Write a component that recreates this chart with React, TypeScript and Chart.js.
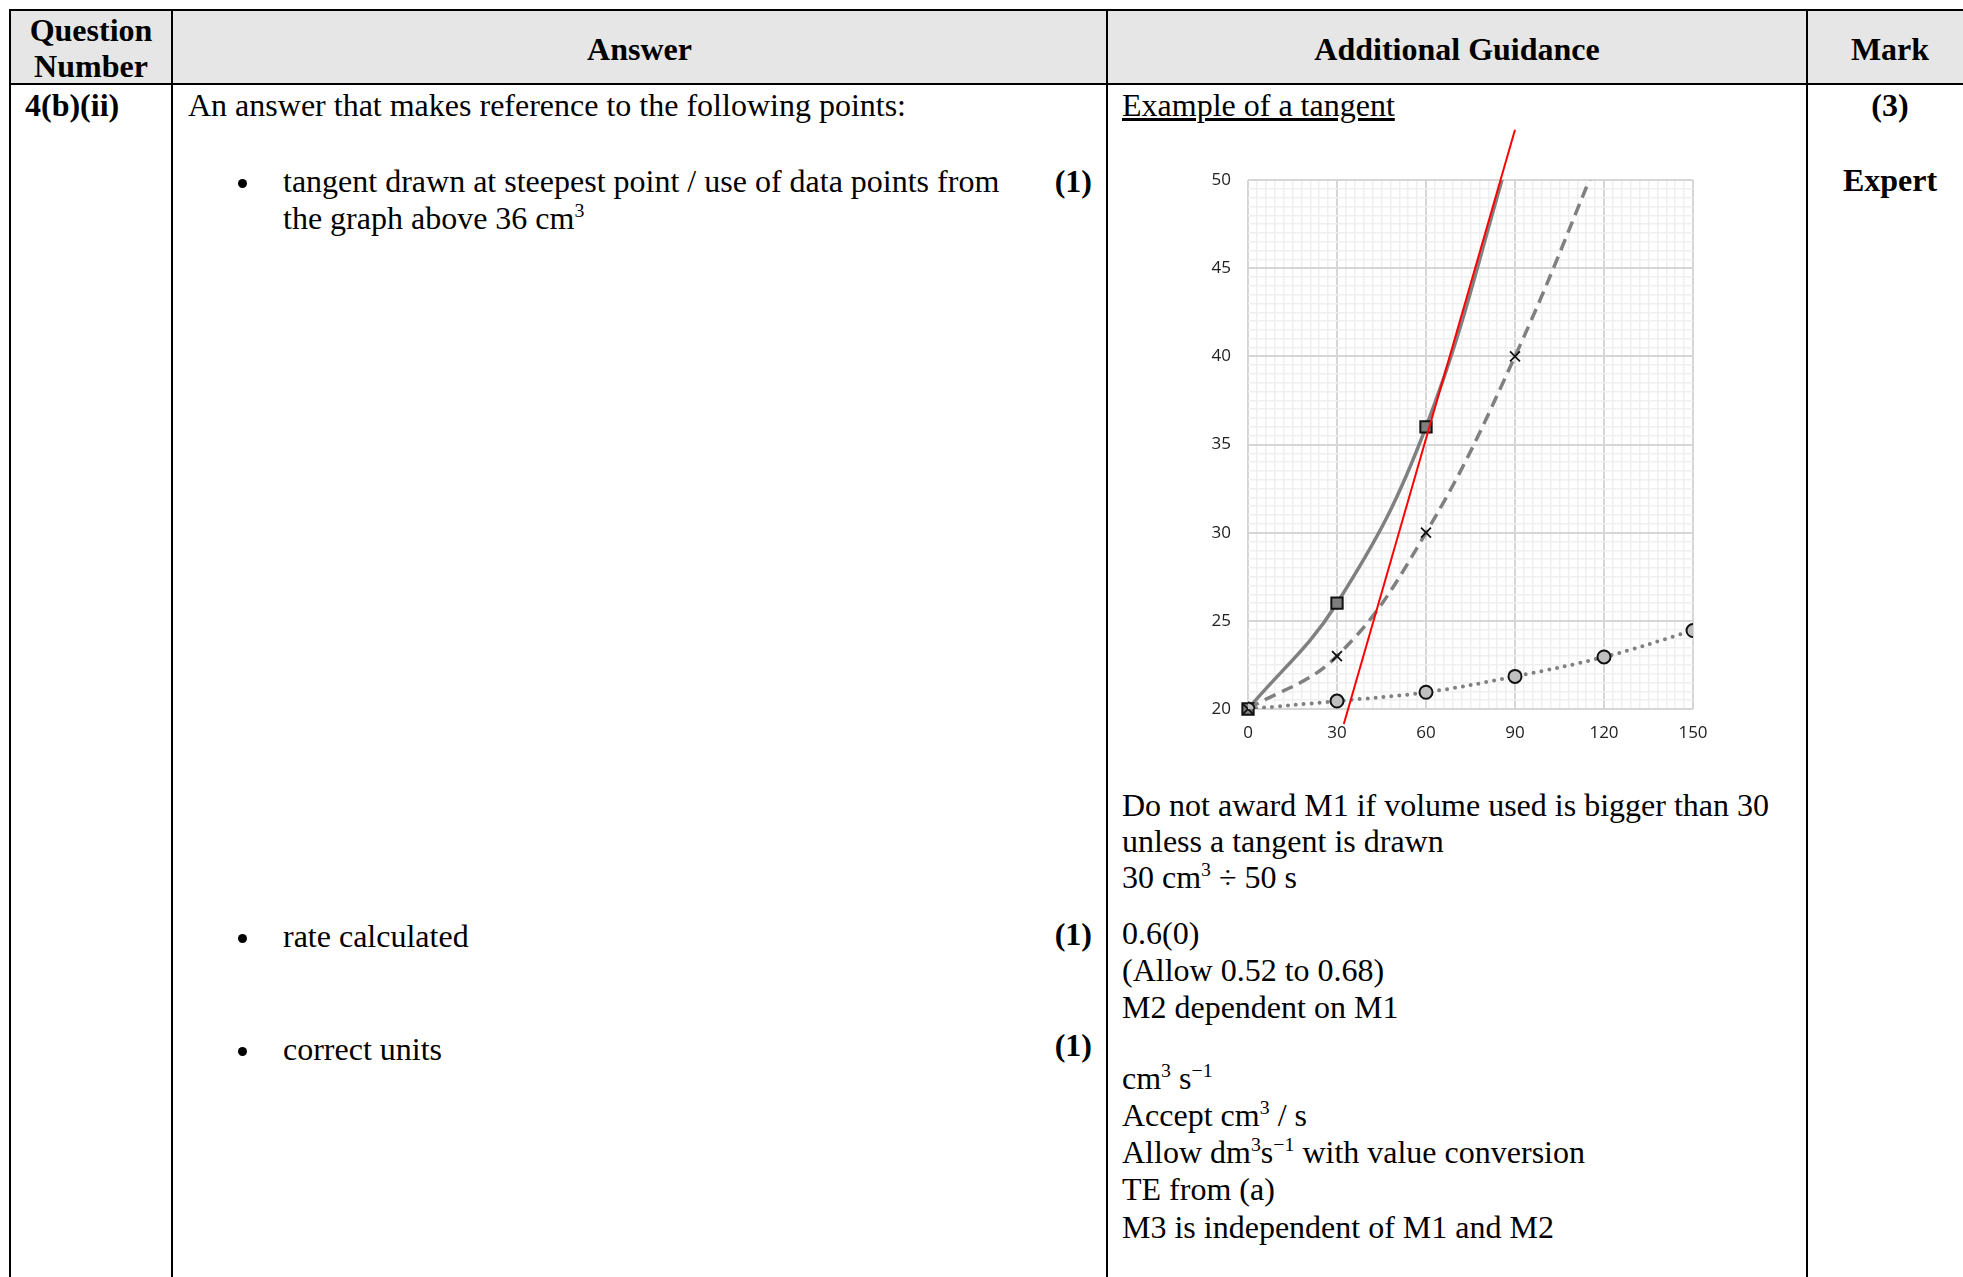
import React, { useEffect, useRef } from 'react';
import { Chart, registerables } from 'chart.js';

Chart.register(...registerables);

// ---- chart data ----
const xTickLabels = [0, 30, 60, 90, 120, 150];
const yTickLabels = [20, 25, 30, 35, 40, 45, 50];
const squareX = [0, 30, 60, 90];
const squareY = [20, 26, 36, 52.5];
const crossX = [0, 30, 60, 90, 120];
const crossY = [20, 23, 30, 40, 52];
const circleX = [0, 30, 60, 90, 120, 150];
const circleY = [20, 20.45, 20.95, 21.85, 22.95, 24.45];
const tangentX = [32.3, 90];
const tangentY = [19.15, 52.85];

const zip = (xs: number[], ys: number[]) => xs.map((x, i) => ({ x, y: ys[i] }));

const isMajorX = (v: number) => xTickLabels.some((t) => Math.abs(t - v) < 1e-6);
const isMajorY = (v: number) => yTickLabels.some((t) => Math.abs(t - v) < 1e-6);

const MAJOR = '#d6d6d6';
const MINOR = '#efefef';

function TangentChart() {
  const ref = useRef<HTMLCanvasElement | null>(null);
  useEffect(() => {
    if (!ref.current) return;
    const tickFont = { family: '"Open Sans", sans-serif', size: 17 };
    const chart = new Chart(ref.current, {
      type: 'line',
      data: {
        datasets: [
          {
            data: zip(tangentX, tangentY),
            borderColor: '#ff0000',
            borderWidth: 2,
            pointRadius: 0,
            tension: 0,
            clip: false as any,
          },
          {
            data: zip(circleX, circleY),
            borderColor: '#808080',
            borderWidth: 4,
            borderDash: [0, 8],
            borderCapStyle: 'round',
            pointStyle: 'circle',
            pointRadius: 6.5,
            pointBackgroundColor: '#c0c0c0',
            pointBorderColor: '#111111',
            pointBorderWidth: 2,
            tension: 0.4,
          },
          {
            data: zip(crossX, crossY),
            borderColor: '#808080',
            borderWidth: 3.5,
            borderDash: [12, 7],
            pointStyle: 'crossRot',
            pointRadius: [7, 7, 7, 7, 0],
            pointBorderColor: '#111111',
            pointBorderWidth: 1.8,
            tension: 0.4,
            clip: { left: 12, right: 12, bottom: 12, top: 0 } as any,
          },
          {
            data: zip(squareX, squareY),
            borderColor: '#808080',
            borderWidth: 3.5,
            pointStyle: 'rect',
            pointRadius: [8, 8, 8, 0],
            pointBackgroundColor: '#7f7f7f',
            pointBorderColor: '#111111',
            pointBorderWidth: 2,
            tension: 0.4,
            clip: { left: 12, right: 12, bottom: 12, top: 0 } as any,
          },
        ],
      },
      options: {
        responsive: false,
        maintainAspectRatio: false,
        animation: false,
        layout: { padding: { top: 65, right: 37, bottom: 16, left: 0 } },
        plugins: { legend: { display: false }, tooltip: { enabled: false } },
        scales: {
          x: {
            type: 'linear',
            min: 0,
            max: 150,
            afterFit: (s: any) => {
              s.height = 40;
            },
            ticks: {
              stepSize: 3,
              autoSkip: false,
              maxRotation: 0,
              padding: 14,
              color: '#222222',
              font: tickFont,
              callback: (v: any) => (isMajorX(Number(v)) ? String(Math.round(Number(v))) : ''),
            },
            grid: {
              drawTicks: false,
              color: (c: any) => (c.tick && isMajorX(c.tick.value) ? MAJOR : MINOR),
              lineWidth: (c: any) => (c.tick && isMajorX(c.tick.value) ? 2 : 1.5),
            },
            border: { display: false },
          },
          y: {
            type: 'linear',
            min: 20,
            max: 50,
            afterFit: (s: any) => {
              s.width = 108;
            },
            ticks: {
              stepSize: 0.5,
              autoSkip: false,
              padding: 17,
              color: '#222222',
              font: tickFont,
              callback: (v: any) => (isMajorY(Number(v)) ? String(Math.round(Number(v))) : ''),
            },
            grid: {
              drawTicks: false,
              color: (c: any) => (c.tick && isMajorY(c.tick.value) ? MAJOR : MINOR),
              lineWidth: (c: any) => (c.tick && isMajorY(c.tick.value) ? 2 : 1.5),
            },
            border: { display: false },
          },
        },
      } as any,
    });
    return () => chart.destroy();
  }, []);
  return (
    <canvas
      ref={ref}
      width={590}
      height={650}
      style={{ position: 'absolute', left: 1140, top: 115, width: 590, height: 650 }}
    />
  );
}

// ---- page text ----
const FONT = '"Liberation Serif", "Times New Roman", serif';
const LH = 37;

function T(props: {
  x: number;
  y: number;
  w?: number;
  align?: 'left' | 'center' | 'right';
  bold?: boolean;
  underline?: boolean;
  children: React.ReactNode;
}) {
  const { x, y, w, align = 'left', bold, underline, children } = props;
  const style: React.CSSProperties = {
    position: 'absolute',
    top: y - LH / 2,
    whiteSpace: 'nowrap',
    fontFamily: FONT,
    fontSize: 32,
    lineHeight: `${LH}px`,
    fontWeight: bold ? 'bold' : 'normal',
    textDecoration: underline ? 'underline' : 'none',
    color: '#000',
  };
  if (align === 'right') {
    style.right = 1963 - x;
  } else {
    style.left = x;
    if (w !== undefined) style.width = w;
    style.textAlign = align;
  }
  return <div style={style}>{children}</div>;
}

const Bullet = ({ y }: { y: number }) => (
  <div
    style={{
      position: 'absolute',
      left: 242 - 4.5,
      top: y - 4.5,
      width: 9,
      height: 9,
      borderRadius: '50%',
      background: '#000',
    }}
  />
);

const Sup = ({ children }: { children: React.ReactNode }) => (
  <span style={{ fontSize: '0.62em', verticalAlign: '0.6em', lineHeight: 0 }}>{children}</span>
);

const cols = [10, 172, 1107, 1807, 1973];

export default function App() {
  const line = (l: number, t: number, w: number, h: number, k: string) => (
    <div key={k} style={{ position: 'absolute', left: l, top: t, width: w, height: h, background: '#000' }} />
  );
  return (
    <div
      style={{
        position: 'absolute',
        left: 0,
        top: 0,
        width: 1963,
        height: 1277,
        overflow: 'hidden',
        background: '#fff',
      }}
    >
      {/* header background */}
      <div style={{ position: 'absolute', left: 10, top: 10, width: 1970, height: 74, background: '#e6e6e6' }} />
      {line(9, 9, 1970, 2, 'top')}
      {line(9, 83, 1970, 2, 'hb')}
      {cols.map((c, i) => line(c - 1, 9, 2, 1300, 'c' + i))}

      {/* header */}
      <T x={cols[0]} w={cols[1] - cols[0]} y={30} align="center" bold>
        Question
      </T>
      <T x={cols[0]} w={cols[1] - cols[0]} y={66} align="center" bold>
        Number
      </T>
      <T x={cols[1]} w={cols[2] - cols[1]} y={49} align="center" bold>
        Answer
      </T>
      <T x={cols[2]} w={cols[3] - cols[2]} y={49} align="center" bold>
        Additional Guidance
      </T>
      <T x={cols[3]} w={cols[4] - cols[3]} y={49} align="center" bold>
        Mark
      </T>

      {/* question number */}
      <T x={25} y={105} bold>
        4(b)(ii)
      </T>

      {/* answer column */}
      <T x={188} y={105}>An answer that makes reference to the following points:</T>
      <Bullet y={183} />
      <T x={283} y={181}>tangent drawn at steepest point / use of data points from</T>
      <T x={283} y={218}>
        the graph above 36 cm<Sup>3</Sup>
      </T>
      <T x={1092} y={181} align="right" bold>
        (1)
      </T>

      <Bullet y={938} />
      <T x={283} y={936}>rate calculated</T>
      <T x={1092} y={934} align="right" bold>
        (1)
      </T>

      <Bullet y={1051} />
      <T x={283} y={1049}>correct units</T>
      <T x={1092} y={1045} align="right" bold>
        (1)
      </T>

      {/* guidance column */}
      <T x={1122} y={105} underline>
        Example of a tangent
      </T>
      <TangentChart />
      <T x={1122} y={805}>Do not award M1 if volume used is bigger than 30</T>
      <T x={1122} y={841}>unless a tangent is drawn</T>
      <T x={1122} y={877}>
        30 cm<Sup>3</Sup> ÷ 50 s
      </T>
      <T x={1122} y={933}>0.6(0)</T>
      <T x={1122} y={970}>(Allow 0.52 to 0.68)</T>
      <T x={1122} y={1007}>M2 dependent on M1</T>
      <T x={1122} y={1078}>
        cm<Sup>3</Sup> s<Sup>−1</Sup>
      </T>
      <T x={1122} y={1115}>
        Accept cm<Sup>3</Sup> / s
      </T>
      <T x={1122} y={1152}>
        Allow dm<Sup>3</Sup>s<Sup>−1</Sup> with value conversion
      </T>
      <T x={1122} y={1189}>TE from (a)</T>
      <T x={1122} y={1227}>M3 is independent of M1 and M2</T>

      {/* mark column */}
      <T x={cols[3]} w={cols[4] - cols[3]} y={105} align="center" bold>
        (3)
      </T>
      <T x={cols[3]} w={cols[4] - cols[3]} y={180} align="center" bold>
        Expert
      </T>
    </div>
  );
}
